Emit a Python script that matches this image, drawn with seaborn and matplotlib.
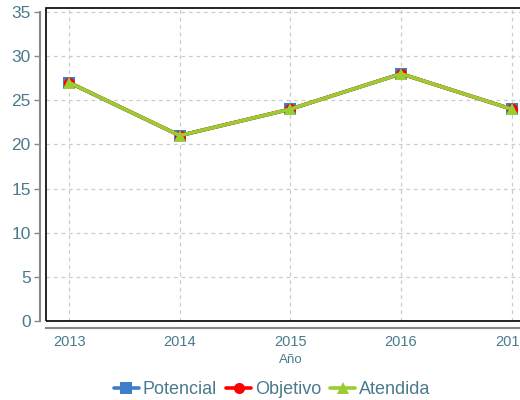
import pandas as pd
import seaborn as sns
import matplotlib.pyplot as plt
from matplotlib.patches import Rectangle

# data
anios = [2013, 2014, 2015, 2016, 2017]
potencial = [27, 21, 24, 28, 24]
objetivo = [27, 21, 24, 28, 24]
atendida = [27, 21, 24, 28, 24]
series = ["Potencial", "Objetivo", "Atendida"]
colores = ["#3d7dca", "#ff0000", "#9acd32"]
marcadores = ["s", "o", "^"]
yticks = [0, 5, 10, 15, 20, 25, 30, 35]

df = pd.DataFrame({
    "Año": anios * 3,
    "valor": potencial + objetivo + atendida,
    "serie": [s for s in series for _ in anios],
})

sns.set_style("white")
plt.rcParams["font.family"] = ["Liberation Sans", "DejaVu Sans"]
txt = "#4a7a8c"

fig = plt.figure(figsize=(5.2, 4), dpi=100)
# right edge runs past the figure, like the reference
ax = fig.add_axes([46 / 520, 1 - 321 / 400, 490 / 520, 313 / 400])

sns.lineplot(data=df, x="Año", y="valor", hue="serie", style="serie",
             markers=marcadores, dashes=False, palette=colores,
             linewidth=2.6, markersize=8, markeredgewidth=0, ax=ax)

ax.set_xlim(2012.79, 2017.22)
ax.set_ylim(0, 35.45)
ax.set_xticks(anios)
ax.set_yticks(yticks)
ax.grid(True, color="#cccccc", linestyle=(0, (3, 3)), linewidth=0.9)

for s in ["top", "right"]:
    ax.spines[s].set_visible(False)
ax.spines["left"].set_position(("outward", 4))
ax.spines["bottom"].set_position(("outward", 5))
ax.spines["left"].set_bounds(0, 35)
for s in ["left", "bottom"]:
    ax.spines[s].set_color("#888888")
    ax.spines[s].set_linewidth(1.5)
ax.add_patch(Rectangle((0, 0), 1, 1, transform=ax.transAxes, fill=False,
                       edgecolor="black", linewidth=1.2, clip_on=False, zorder=5))

ax.tick_params(axis="y", colors="#888888", labelcolor=txt, labelsize=12.5,
               length=4, left=True, width=1, pad=3)
ax.tick_params(axis="x", colors="#888888", labelcolor=txt, labelsize=10.5,
               length=0, pad=5)
ax.set_xlabel("Año", color=txt, fontsize=9.5, labelpad=4)
ax.set_ylabel("")

ax.legend(loc="upper center", bbox_to_anchor=(226 / 490, -0.17), ncol=3,
          frameon=False, fontsize=13, labelcolor=txt, handlelength=1.4,
          handletextpad=0.2, columnspacing=0.5, borderaxespad=0)

fig.savefig("out.png", dpi=100)
